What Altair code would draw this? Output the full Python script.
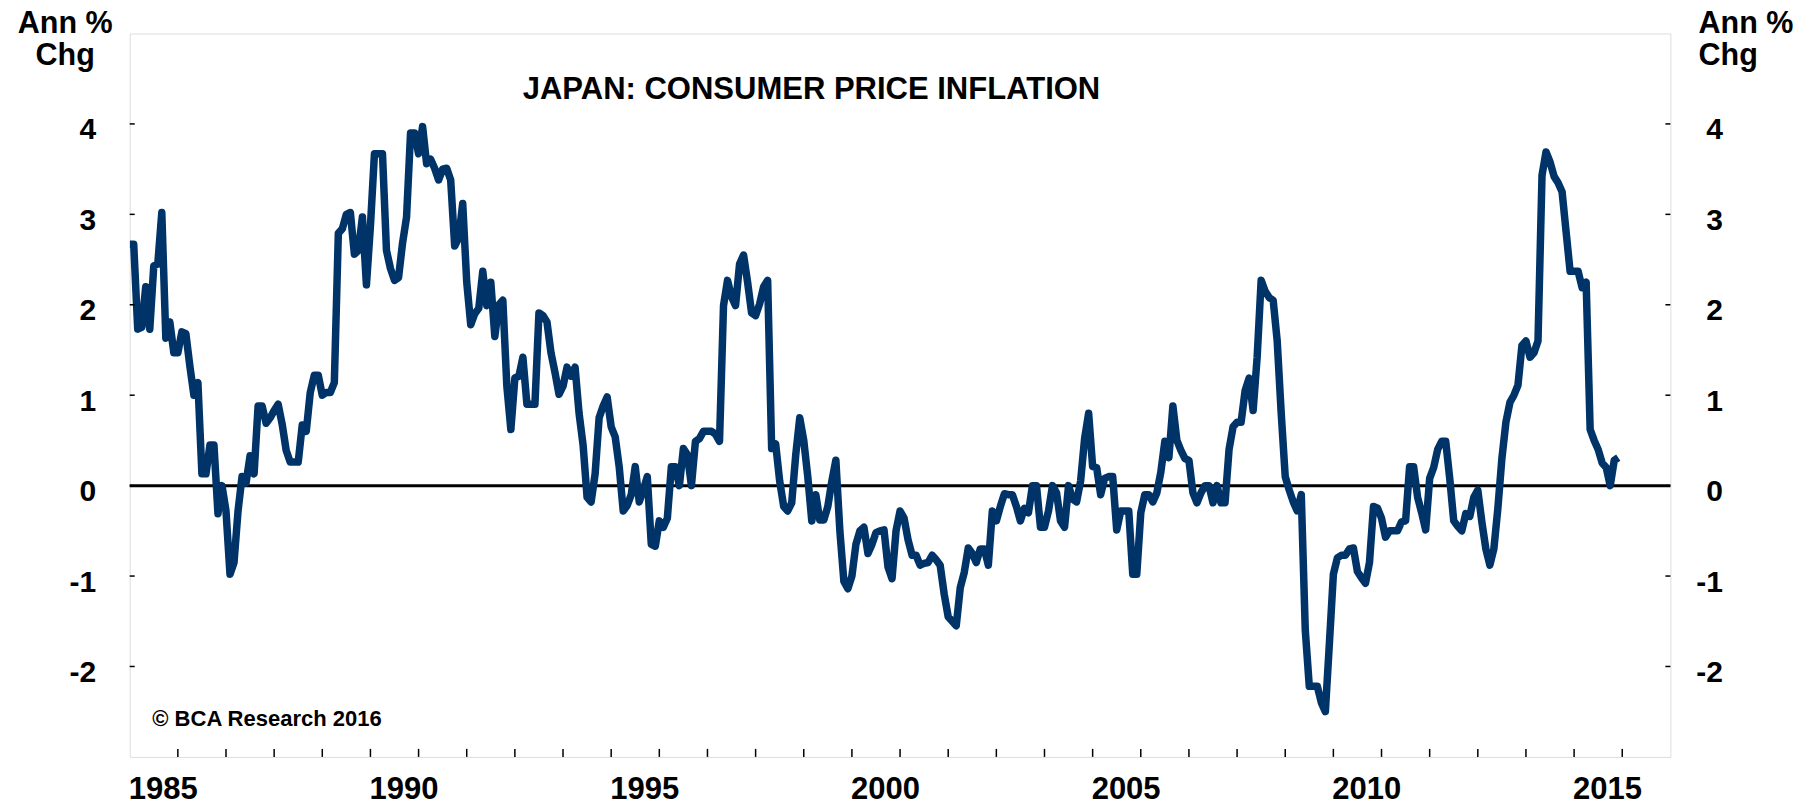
import altair as alt
import pandas as pd

FONT = "Liberation Sans"
LINE_COLOR = "#003468"

title_text = "JAPAN: CONSUMER PRICE INFLATION"
unit_title = ["Ann %", "Chg"]
source_text = "\u00a9 BCA Research 2016"

# monthly annual % change, one list per year (12 readings each)
cpi_1985 = [2.67, 2.67, 1.73, 1.75, 2.2, 1.73, 2.43, 2.45, 3.02, 1.63, 1.81, 1.47]
cpi_1986 = [1.47, 1.7, 1.68, 1.32, 1.0, 1.14, 0.13, 0.13, 0.45, 0.45, -0.31, 0.0]
cpi_1987 = [-0.28, -0.98, -0.85, -0.28, 0.1, 0.03, 0.33, 0.13, 0.88, 0.88, 0.69, 0.75]
cpi_1988 = [0.83, 0.9, 0.68, 0.39, 0.26, 0.26, 0.26, 0.67, 0.6, 1.03, 1.22, 1.22]
cpi_1989 = [1.0, 1.03, 1.03, 1.14, 2.79, 2.84, 3.0, 3.02, 2.56, 2.6, 2.97, 2.22]
cpi_1990 = [2.87, 3.67, 3.67, 3.67, 2.6, 2.4, 2.27, 2.3, 2.68, 2.97, 3.9, 3.9]
cpi_1991 = [3.67, 3.97, 3.56, 3.61, 3.51, 3.38, 3.5, 3.51, 3.38, 2.65, 2.74, 3.12]
cpi_1992 = [2.25, 1.78, 1.9, 1.96, 2.37, 1.99, 2.25, 1.65, 2.0, 2.05, 1.1, 0.62]
cpi_1993 = [1.19, 1.21, 1.42, 0.9, 0.9, 0.9, 1.91, 1.88, 1.81, 1.47, 1.25, 1.01]
cpi_1994 = [1.1, 1.31, 1.21, 1.31, 0.8, 0.45, -0.13, -0.18, 0.13, 0.75, 0.88, 0.98]
cpi_1995 = [0.65, 0.54, 0.21, -0.28, -0.22, -0.1, 0.21, -0.18, -0.05, 0.1, -0.65, -0.67]
cpi_1996 = [-0.39, -0.46, -0.36, 0.21, 0.21, 0.0, 0.41, 0.34, 0.0, 0.49, 0.52, 0.6]
cpi_1997 = [0.6, 0.6, 0.57, 0.49, 1.99, 2.27, 2.09, 1.99, 2.45, 2.55, 2.25, 1.91]
cpi_1998 = [1.88, 2.01, 2.2, 2.27, 0.41, 0.46, 0.05, -0.23, -0.28, -0.19, 0.34, 0.75]
cpi_1999 = [0.5, 0.1, -0.39, -0.1, -0.38, -0.38, -0.23, 0.05, 0.28, -0.5, -1.06, -1.14]
cpi_2000 = [-1.0, -0.65, -0.5, -0.46, -0.75, -0.65, -0.52, -0.5, -0.49, -0.9, -1.03, -0.5]
cpi_2001 = [-0.28, -0.36, -0.6, -0.77, -0.77, -0.88, -0.86, -0.85, -0.77, -0.82, -0.88, -1.2]
cpi_2002 = [-1.45, -1.5, -1.55, -1.13, -0.96, -0.69, -0.75, -0.85, -0.7, -0.7, -0.88, -0.28]
cpi_2003 = [-0.39, -0.23, -0.09, -0.1, -0.1, -0.23, -0.39, -0.25, -0.3, 0.0, 0.0, -0.46]
cpi_2004 = [-0.46, -0.28, 0.0, -0.08, -0.39, -0.46, 0.0, -0.15, -0.18, 0.05, 0.52, 0.8]
cpi_2005 = [0.21, 0.2, -0.1, 0.08, 0.1, 0.1, -0.49, -0.28, -0.28, -0.28, -0.98, -0.98]
cpi_2006 = [-0.3, -0.1, -0.1, -0.18, -0.08, 0.15, 0.49, 0.31, 0.88, 0.5, 0.39, 0.3]
cpi_2007 = [0.28, -0.08, -0.19, -0.08, 0.0, 0.0, -0.19, 0.0, -0.19, -0.19, 0.4, 0.65]
cpi_2008 = [0.7, 0.7, 1.05, 1.19, 0.83, 1.42, 2.27, 2.15, 2.08, 2.05, 1.6, 0.8]
cpi_2009 = [0.1, -0.05, -0.18, -0.28, -0.1, -1.6, -2.22, -2.22, -2.22, -2.4, -2.5, -1.75]
cpi_2010 = [-0.98, -0.8, -0.77, -0.77, -0.7, -0.69, -0.95, -1.02, -1.08, -0.85, -0.23, -0.25]
cpi_2011 = [-0.36, -0.57, -0.5, -0.5, -0.5, -0.4, -0.39, 0.21, 0.21, -0.13, -0.3, -0.49]
cpi_2012 = [0.08, 0.2, 0.4, 0.49, 0.49, 0.08, -0.39, -0.45, -0.5, -0.31, -0.34, -0.13]
cpi_2013 = [-0.05, -0.4, -0.7, -0.88, -0.7, -0.25, 0.3, 0.7, 0.92, 1.0, 1.11, 1.55]
cpi_2014 = [1.6, 1.42, 1.47, 1.6, 3.43, 3.69, 3.58, 3.42, 3.35, 3.25, 2.81, 2.37]
cpi_2015 = [2.37, 2.37, 2.19, 2.25, 0.62, 0.5, 0.4, 0.25, 0.2, 0.0, 0.28, 0.31]

years = list(range(1985, 2016))
yearly = [cpi_1985, cpi_1986, cpi_1987, cpi_1988, cpi_1989, cpi_1990, cpi_1991,
          cpi_1992, cpi_1993, cpi_1994, cpi_1995, cpi_1996, cpi_1997, cpi_1998,
          cpi_1999, cpi_2000, cpi_2001, cpi_2002, cpi_2003, cpi_2004, cpi_2005,
          cpi_2006, cpi_2007, cpi_2008, cpi_2009, cpi_2010, cpi_2011, cpi_2012,
          cpi_2013, cpi_2014, cpi_2015]

y_ticks = [-2, -1, 0, 1, 2, 3, 4]
x_label_years = [1985, 1990, 1995, 2000, 2005, 2010, 2015]
x_tick_years = list(range(1986, 2017))
x_domain = [1985, 2017]
y_domain = [-3, 5]

rows = []
for yr, vals in zip(years, yearly):
    for i, v in enumerate(vals):
        rows.append({"t": yr + i / 12.0, "cpi": v})
df = pd.DataFrame(rows)

W = 1540.7
H = 723.4

xscale = alt.Scale(domain=x_domain, nice=False, zero=False)
yscale = alt.Scale(domain=y_domain, nice=False, zero=False)

common_label = dict(labelFont=FONT, labelFontWeight="bold", labelColor="black",
                    labelOverlap=False, grid=False, ticks=False, tickSize=0,
                    domain=False, labelExpr="toString(datum.value)")

left_axis = alt.Axis(orient="left", values=y_ticks, labelFontSize=30,
                     labelPadding=34, labelOffset=6,
                     title=unit_title, titleAngle=0, titleAlign="center",
                     titleBaseline="alphabetic", titleX=-65, titleY=-1.0,
                     titleFont=FONT, titleFontSize=30.5, titleFontWeight="bold",
                     titleColor="black", titleLineHeight=31.6, **common_label)

right_axis = alt.Axis(orient="right", values=y_ticks, labelFontSize=30,
                      labelPadding=52, labelOffset=6, labelAlign="right",
                      title=unit_title, titleAngle=0, titleAlign="left",
                      titleBaseline="alphabetic", titleX=27.6, titleY=-1.0,
                      titleFont=FONT, titleFontSize=30.5, titleFontWeight="bold",
                      titleColor="black", titleLineHeight=31.6, **common_label)

zero_line = alt.Chart(pd.DataFrame({"v": [0]})).mark_rule(
    color="black", strokeWidth=3
).encode(y=alt.Y("v:Q", scale=yscale, axis=None))

tick_df = pd.DataFrame({"v": y_ticks})
left_ticks = alt.Chart(tick_df).mark_rule(color="black", strokeWidth=1.5).encode(
    y=alt.Y("v:Q", scale=yscale, axis=None),
    x=alt.value(0), x2=alt.value(5))

right_ticks = alt.Chart(tick_df).mark_rule(color="black", strokeWidth=1.5).encode(
    y=alt.Y("v:Q", scale=yscale, axis=right_axis),
    x=alt.value(W - 5), x2=alt.value(W))

bottom_ticks = alt.Chart(pd.DataFrame({"t": x_tick_years})).mark_rule(
    color="black", strokeWidth=1.5
).encode(x=alt.X("t:Q", scale=xscale, axis=None),
         y=alt.value(H - 8), y2=alt.value(H))

x_labels = alt.Chart(pd.DataFrame({"t": x_label_years,
                                   "label": [str(v) for v in x_label_years]})).mark_text(
    font=FONT, fontSize=31, fontWeight="bold", color="black",
    align="left", baseline="alphabetic", dx=-1
).encode(x=alt.X("t:Q", scale=xscale, axis=None), y=alt.value(H + 42),
         text="label:N")

line = alt.Chart(df).mark_line(
    color=LINE_COLOR, strokeWidth=7.5, strokeJoin="round", clip=True
).encode(
    x=alt.X("t:Q", scale=xscale, axis=None),
    y=alt.Y("cpi:Q", scale=yscale, axis=left_axis),
)

title_mark = alt.Chart(pd.DataFrame({"label": [title_text]})).mark_text(
    font=FONT, fontSize=31, fontWeight="bold", color="black",
    align="center", baseline="alphabetic"
).encode(text="label:N", x=alt.value(681.8), y=alt.value(65.6))

source_mark = alt.Chart(pd.DataFrame({"label": [source_text]})).mark_text(
    font=FONT, fontSize=22, fontWeight="bold", color="black",
    align="left", baseline="alphabetic"
).encode(text="label:N", x=alt.value(22.6), y=alt.value(692.5))

chart = alt.layer(
    zero_line, line, left_ticks, right_ticks, bottom_ticks, x_labels,
    title_mark, source_mark
).resolve_axis(y="independent").properties(
    width=W, height=H,
    padding={"left": 121.7, "top": 25.5, "right": 131.6, "bottom": 47.1},
    autosize=alt.AutoSizeParams(type="none"),
).configure_view(stroke="black", strokeWidth=1.5).configure(background="white")

chart.save("out.html", embed_options={"renderer": "svg", "actions": False})
